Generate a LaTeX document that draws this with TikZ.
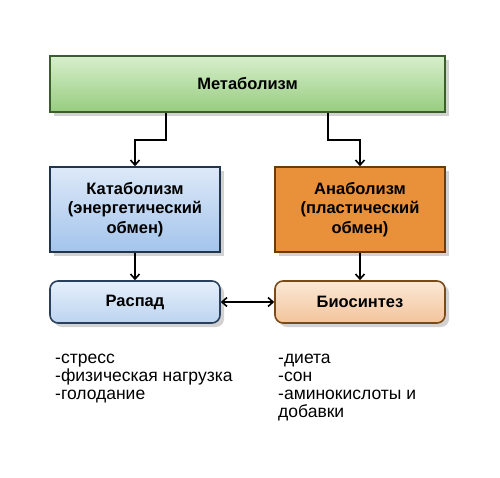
\documentclass[tikz,border=0pt]{standalone}
\usepackage{fontspec}
\setmainfont{Liberation Sans}
\usetikzlibrary{arrows.meta}
\usetikzlibrary{shadows}
\usetikzlibrary{calc}

\definecolor{grtop}{HTML}{D7EFCC}
\definecolor{grbot}{HTML}{97CC7F}
\definecolor{grline}{HTML}{3A5F2A}
\definecolor{bltop}{HTML}{DDE9F8}
\definecolor{blbot}{HTML}{A3C4EC}
\definecolor{blline}{HTML}{22354F}
\definecolor{orfill}{HTML}{E8913A}
\definecolor{orline}{HTML}{6B3B0C}
\definecolor{lbtop}{HTML}{E6EFFB}
\definecolor{lbbot}{HTML}{BCD4F0}
\definecolor{lbline}{HTML}{2A3F5C}
\definecolor{lotop}{HTML}{FBE8D6}
\definecolor{lobot}{HTML}{F3C49A}
\definecolor{loline}{HTML}{7A4A18}

\tikzset{
    box/.style={draw, line width=1.6pt, align=center, inner sep=0pt,
        font=\fontsize{16.5}{19.5}\selectfont\bfseries,
        drop shadow={shadow xshift=4pt, shadow yshift=-4pt, fill=black!35, opacity=.5}},
    conn/.style={line width=1.8pt, -{Straight Barb[length=5pt,width=9pt,line width=1.6pt]}},
    biconn/.style={line width=1.8pt, {Straight Barb[length=5pt,width=9pt,line width=1.6pt]}-{Straight Barb[length=5pt,width=9pt,line width=1.6pt]}},
    lst/.style={anchor=north west, inner sep=0pt, align=left,
        font=\fontsize{17.5}{18}\selectfont}
}

\begin{document}
\begin{tikzpicture}[x=1pt, y=-1pt]
    \useasboundingbox[fill=white] (0,0) rectangle (500,477);

    % Top level
    \node[box, minimum width=395pt, minimum height=56pt, draw=grline,
          top color=grtop, bottom color=grbot] (metab) at (247.5,84) {Метаболизм};

    % Two branches
    \node[box, minimum width=170pt, minimum height=85pt, draw=blline,
          top color=bltop, bottom color=blbot] (katab) at (135,209.5)
          {Катаболизм\\(энергетический\\обмен)};
    \node[box, minimum width=170pt, minimum height=85pt, draw=orline,
          fill=orfill] (anab) at (360,209.5)
          {Анаболизм\\(пластический\\обмен)};

    % Processes
    \node[box, rounded corners=8pt, minimum width=170pt, minimum height=42pt, draw=lbline,
          top color=lbtop, bottom color=lbbot] (raspad) at (135,302) {Распад};
    \node[box, rounded corners=8pt, minimum width=170pt, minimum height=42pt, draw=loline,
          top color=lotop, bottom color=lobot] (biosint) at (360,302) {Биосинтез};

    % Connectors
    \coordinate (mk) at (166,140);
    \coordinate (ma) at (328,140);
    \draw[conn] (metab.south -| mk) -- (mk) -| (katab.north);
    \draw[conn] (metab.south -| ma) -- (ma) -| (anab.north);
    \draw[conn] (katab) -- (raspad);
    \draw[conn] (anab) -- (biosint);
    \draw[biconn] (raspad) -- (biosint);

    % Factors
    \node[lst] (katlist) at (55,354) {-стресс\\-физическая нагрузка\\-голодание};
    \node[lst] (anlist) at (278,354) {-диета\\-сон\\-аминокислоты и\\добавки};
\end{tikzpicture}
\end{document}
